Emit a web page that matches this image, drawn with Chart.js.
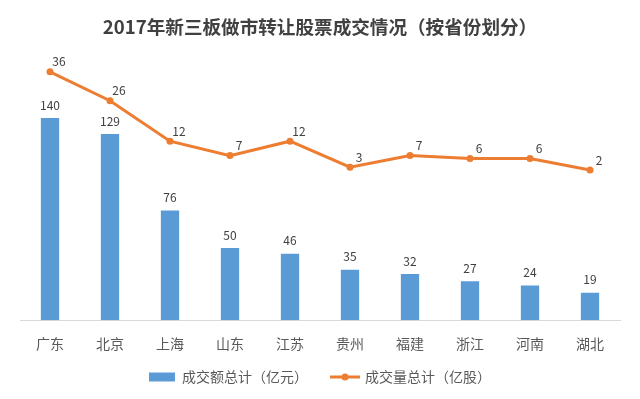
<!DOCTYPE html>
<html>
<head>
<meta charset="utf-8">
<script src="https://cdn.jsdelivr.net/npm/chart.js@4"></script>
<style>
  html, body { margin: 0; padding: 0; background: #fff; }
  #wrap { width: 640px; height: 399px; }
</style>
</head>
<body>
<div id="wrap"><canvas id="chart" width="640" height="399"></canvas></div>
<script>
const provinces = ['广东', '北京', '上海', '山东', '江苏', '贵州', '福建', '浙江', '河南', '湖北'];
const turnover = [140, 129, 76, 50, 46, 35, 32, 27, 24, 19];   // 成交额总计（亿元）
const volume = [36, 26, 12, 7, 12, 3, 7, 6, 6, 2];             // 成交量总计（亿股）

const chartTitle = '2017年新三板做市转让股票成交情况（按省份划分）';
const barLabel = '成交额总计（亿元）';
const lineLabel = '成交量总计（亿股）';

const barColour = '#5B9BD5';
const lineColour = '#ED7D31';
const textColour = '#595959';
const fontFamily = '"Microsoft YaHei", "Noto Sans CJK SC", sans-serif';

// little line-with-dot marker for the legend
function lineMarker() {
  const c = document.createElement('canvas');
  c.width = 30;
  c.height = 10;
  const g = c.getContext('2d');
  g.strokeStyle = lineColour;
  g.lineWidth = 3;
  g.beginPath();
  g.moveTo(0, 5);
  g.lineTo(30, 5);
  g.stroke();
  g.fillStyle = lineColour;
  g.beginPath();
  g.arc(15, 5, 3.5, 0, Math.PI * 2);
  g.fill();
  return c;
}
const legendLine = lineMarker();

// draws the value labels above bars / points
const valueLabels = {
  id: 'valueLabels',
  afterDatasetsDraw(chart) {
    const ctx = chart.ctx;
    ctx.save();
    ctx.font = '12px ' + fontFamily;
    ctx.fillStyle = '#404040';
    ctx.textAlign = 'center';
    ctx.textBaseline = 'middle';
    chart.data.datasets.forEach((ds, i) => {
      const meta = chart.getDatasetMeta(i);
      meta.data.forEach((el, j) => {
        const val = ds.data[j];
        if (ds.type === 'line') {
          ctx.fillText(val, el.x + 9, el.y - 10);
        } else {
          ctx.fillText(val, el.x, el.y - 13);
        }
      });
    });
    ctx.restore();
  }
};

new Chart(document.getElementById('chart'), {
  data: {
    labels: provinces,
    datasets: [
      {
        type: 'line',
        label: lineLabel,
        data: volume,
        yAxisID: 'y1',
        borderColor: lineColour,
        backgroundColor: lineColour,
        borderWidth: 3,
        pointRadius: 3.5,
        pointHoverRadius: 3.5,
        pointBorderWidth: 0,
        tension: 0,
        order: 0
      },
      {
        type: 'bar',
        label: barLabel,
        data: turnover,
        yAxisID: 'y',
        backgroundColor: barColour,
        borderWidth: 0,
        categoryPercentage: 1.0,
        barPercentage: 0.305,
        order: 1
      }
    ]
  },
  options: {
    responsive: false,
    animation: false,
    layout: { padding: { left: 20, right: 20, top: 0, bottom: 5 } },
    plugins: {
      title: {
        display: true,
        text: chartTitle,
        color: '#404040',
        font: { family: fontFamily, size: 18.6, weight: 'bold' },
        padding: { top: 16, bottom: 22 }
      },
      legend: {
        position: 'bottom',
        reverse: true,
        labels: {
          color: textColour,
          font: { family: fontFamily, size: 14 },
          usePointStyle: true,
          pointStyleWidth: 26,
          boxHeight: 9,
          padding: 3,
          generateLabels(chart) {
            const items = Chart.defaults.plugins.legend.labels.generateLabels(chart);
            items.forEach(it => {
              if (chart.data.datasets[it.datasetIndex].type === 'line') {
                it.pointStyle = legendLine;
              } else {
                it.pointStyle = 'rect';
                it.text = it.text + '\u3000\u3000';
              }
            });
            return items;
          }
        }
      },
      tooltip: { enabled: false }
    },
    scales: {
      x: {
        offset: true,
        grid: { display: true, drawOnChartArea: false, drawTicks: false },
        border: { display: true, color: '#D9D9D9', width: 1 },
        ticks: {
          color: textColour,
          font: { family: fontFamily, size: 14 },
          padding: 15
        }
      },
      y: { display: false, min: 0, max: 180 },
      y1: { display: false, min: -50, max: 40 }
    }
  },
  plugins: [valueLabels]
});
</script>
</body>
</html>
